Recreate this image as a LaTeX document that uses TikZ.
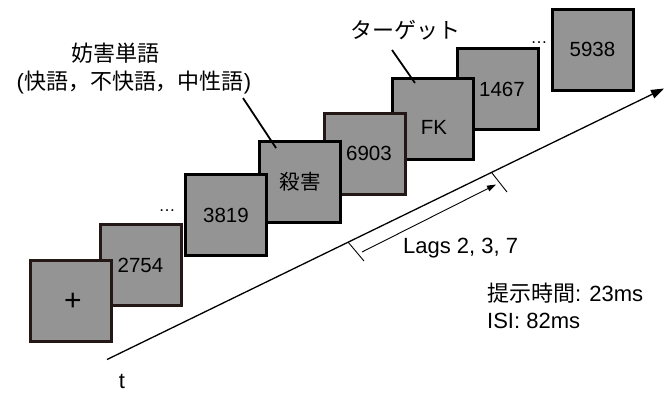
\documentclass[tikz,border=0pt]{standalone}
\usepackage{fontspec}
\setmainfont{Liberation Sans}
\newfontfamily\jp{Noto Sans CJK JP}
\usetikzlibrary{arrows.meta}
\definecolor{boxfill}{HTML}{949494}
\definecolor{boxdark}{HTML}{231815}
\begin{document}
\begin{tikzpicture}[x=1pt,y=-1pt,
  stim/.style={draw=black, fill=boxfill, line width=3pt, minimum width=81pt, minimum height=81pt, inner sep=0pt, font=\fontsize{20.5}{24}\selectfont},
  stimb/.style={stim, draw=boxdark},
  intext/.style={inner sep=0pt, font=\fontsize{20.5}{24}\selectfont},
  lbl/.style={inner sep=0pt, font=\fontsize{22}{26}\selectfont},
  dots/.style={inner sep=0pt, font=\fontsize{17}{19}\selectfont},
  leader/.style={line width=1.8pt, draw=black},
  thin/.style={line width=0.9pt, draw=black}]
\useasboundingbox (0,0) rectangle (670,392);
% stimulus boxes, back to front
\node[stim]  (b8) at (592.5,49.5) {5938};
\node[stim]  (b7) at (498,89) {\hspace{8pt}1467};
\node[stim]  (b6) at (433,118.5) {};
\node[intext] (b6t) at (434,127) {FK};
\node[stimb] (b5) at (365,153.5) {\hspace{8pt}6903};
\node[stim]  (b4) at (300,182) {\jp 殺害};
\node[stim]  (b3) at (226,215) {3819};
\node[stimb] (b2) at (140.5,265) {2754};
\node[stimb] (b1) at (71,300.5) {};
\node[inner sep=0pt, font=\fontsize{30}{32}\selectfont] (b1t) at (73,302) {+};
% ellipses
\node[dots, anchor=base] (d1) at (167,211.5) {…};
\node[dots, anchor=base] (d2) at (539,43.5) {…};
% labels
\node[lbl] (w1) at (115,53.5) {\jp 妨害単語};
\node[lbl] (w2) at (134,83) {(\jp 快語，不快語，中性語\rmfamily)};
\node[lbl] (tg) at (405,30) {\jp ターゲット};
\coordinate (w2end) at (243,98);
\coordinate (b4in) at (276,148);
\coordinate (tgend) at (392,50);
\coordinate (b6in) at (415,83);
\draw[leader] (w2end) -- (b4in);
\draw[leader] (tgend) -- (b6in);
% time axis
\coordinate (t0) at (107,359.5);
\coordinate (t1) at (664,88.5);
\draw[line width=1.3pt, -{Triangle[length=13pt,width=9pt]}] (t0) -- (t1);
\node[lbl, anchor=base] (tl) at (122,388) {t};
% lag bracket
\coordinate (k1a) at (348,242);
\coordinate (k1b) at (364,261);
\coordinate (k2a) at (492,173);
\coordinate (k2b) at (507,192);
\draw[thin] (k1a) -- (k1b);
\draw[thin] (k2a) -- (k2b);
\coordinate (la) at (362,252);
\coordinate (lb) at (496,184.5);
\draw[thin, -{Triangle[length=9pt,width=6pt]}] (la) -- (lb);
\node[lbl, anchor=base west] (lag) at (403,253) {Lags 2, 3, 7};
\node[lbl, anchor=base west] (pt) at (487,301) {{\jp 提示時間}: 23ms};
\node[lbl, anchor=base west] (isi) at (487,328) {ISI: 82ms};
\end{tikzpicture}
\end{document}
